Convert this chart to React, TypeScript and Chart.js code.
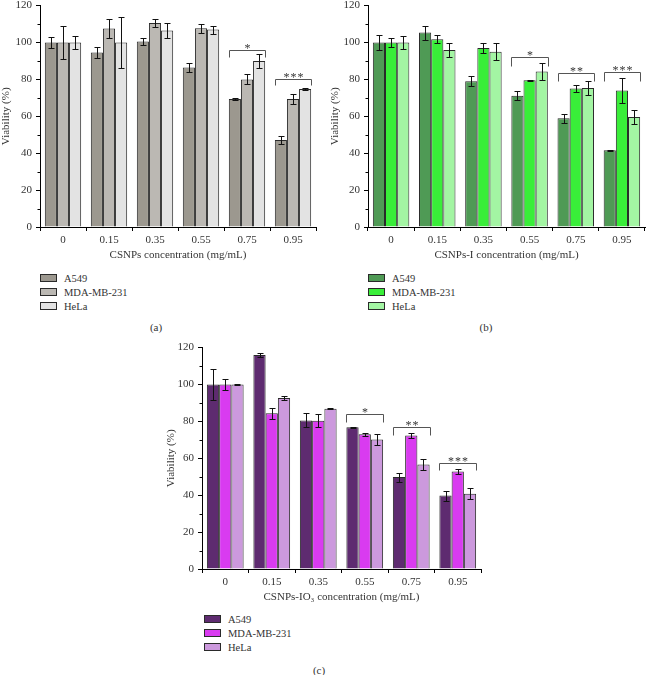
import React, { useEffect, useRef } from 'react';
import { Chart, registerables } from 'chart.js';

Chart.register(...registerables);
Chart.defaults.font.family = '"Liberation Serif", "Times New Roman", serif';
Chart.defaults.font.size = 11;
Chart.defaults.color = '#333';

// shared categories
const concentrations = ['0', '0.15', '0.35', '0.55', '0.75', '0.95'];
const cellLines = ['A549', 'MDA-MB-231', 'HeLa'];

// (a) CSNPs
const csnpsA549 = [100, 94.6, 100.5, 86.5, 69.4, 47.2];
const csnpsA549Err = [3, 3, 2, 2.5, 0.7, 2.3];
const csnpsMda = [100, 107.6, 110.6, 107.7, 80, 69.4];
const csnpsMdaErr = [9, 5.4, 2.2, 2.4, 2.7, 2.8];
const csnpsHela = [100, 100, 106.5, 107, 90, 74.8];
const csnpsHelaErr = [3.3, 14, 4, 2.2, 3.8, 0.5];
const csnpsBrackets = [
  { group: 4, top: 96, leg: 92, stars: 1 },
  { group: 5, top: 80, leg: 77, stars: 3 },
];

// (b) CSNPs-I
const iodA549 = [100, 105.4, 79, 71.2, 59, 41.6];
const iodA549Err = [3.8, 3.8, 2.6, 2.5, 2.4, 0.3];
const iodMda = [100, 101.8, 97, 79.6, 75.1, 74];
const iodMdaErr = [2.7, 2.2, 2.6, 0.3, 1.7, 6.8];
const iodHela = [100, 96, 95, 84.3, 75.3, 59.6];
const iodHelaErr = [3.4, 3.8, 4.7, 4.4, 4, 3.6];
const iodBrackets = [
  { group: 3, top: 92, leg: 87.4, stars: 1 },
  { group: 4, top: 83.2, leg: 79, stars: 2 },
  { group: 5, top: 83.8, leg: 79.3, stars: 3 },
];

// (c) CSNPs-IO3
const iodateA549 = [100, 116, 80.5, 76.8, 49.8, 39.8];
const iodateA549Err = [8.2, 0.9, 3.8, 0.3, 2.4, 2.7];
const iodateMda = [100, 84.4, 80.4, 73, 72.3, 52.9];
const iodateMdaErr = [3.1, 2.9, 3.5, 0.8, 1.3, 1.3];
const iodateHela = [100, 92.7, 86.9, 70.2, 56.7, 40.8];
const iodateHelaErr = [0.4, 1.3, 0.3, 3.1, 3.1, 2.9];
const iodateBrackets = [
  { group: 3, top: 84, leg: 79.5, stars: 1 },
  { group: 4, top: 77, leg: 72.8, stars: 2 },
  { group: 5, top: 57.4, leg: 53.4, stars: 3 },
];

interface Bracket {
  group: number;
  top: number;
  leg: number;
  stars: number;
}

interface PanelProps {
  values: number[][];
  errors: number[][];
  brackets: Bracket[];
  colors: string[];
  xTitle: string;
  left: number;
  top: number;
  width: number;
  height: number;
  yWidth: number;
  xHeight: number;
  padRight: number;
}

// error bars, minor y ticks and significance brackets
function makeOverlay(errors: number[][], brackets: Bracket[]) {
  return {
    id: 'overlay',
    afterDraw(chart: Chart) {
      const ctx = chart.ctx;
      const yScale = chart.scales.y;
      const area = chart.chartArea;
      ctx.save();
      ctx.strokeStyle = '#111';
      ctx.lineWidth = 1;

      errors.forEach((errs, di) => {
        const meta = chart.getDatasetMeta(di);
        meta.data.forEach((bar: any, i: number) => {
          const v = chart.data.datasets[di].data[i] as number;
          const x = Math.round(bar.x) + 0.5;
          const yt = Math.round(yScale.getPixelForValue(v + errs[i])) + 0.5;
          const yb = Math.round(yScale.getPixelForValue(v - errs[i])) + 0.5;
          ctx.beginPath();
          ctx.moveTo(x, yt);
          ctx.lineTo(x, yb);
          ctx.moveTo(x - 3, yt);
          ctx.lineTo(x + 3, yt);
          ctx.moveTo(x - 3, yb);
          ctx.lineTo(x + 3, yb);
          ctx.stroke();
        });
      });

      // minor ticks
      ctx.strokeStyle = '#000';
      for (let v = 10; v < 120; v += 20) {
        const py = Math.round(yScale.getPixelForValue(v)) + 0.5;
        ctx.beginPath();
        ctx.moveTo(area.left - 2.5, py);
        ctx.lineTo(area.left, py);
        ctx.stroke();
      }

      // brackets
      ctx.strokeStyle = '#555';
      ctx.fillStyle = '#333';
      ctx.font = '12px "Liberation Serif", serif';
      ctx.textAlign = 'center';
      ctx.textBaseline = 'alphabetic';
      const first = chart.getDatasetMeta(0);
      const last = chart.getDatasetMeta(errors.length - 1);
      brackets.forEach((b) => {
        const b0: any = first.data[b.group];
        const b2: any = last.data[b.group];
        const x0 = Math.round(b0.x - b0.width / 2) + 0.5;
        const x1 = Math.round(b2.x + b2.width / 2) + 0.5;
        const yTop = Math.round(yScale.getPixelForValue(b.top)) + 0.5;
        const yLeg = Math.round(yScale.getPixelForValue(b.leg)) + 0.5;
        ctx.beginPath();
        ctx.moveTo(x0, yLeg);
        ctx.lineTo(x0, yTop);
        ctx.lineTo(x1, yTop);
        ctx.lineTo(x1, yLeg);
        ctx.stroke();
        const cx = (x0 + x1) / 2;
        for (let s = 0; s < b.stars; s++) {
          const sx = cx + (s - (b.stars - 1) / 2) * 7;
          ctx.fillText('*', sx, yTop + 1);
        }
      });
      ctx.restore();
    },
  };
}

function Panel(p: PanelProps) {
  const canvasRef = useRef<HTMLCanvasElement>(null);

  useEffect(() => {
    if (!canvasRef.current) return;
    const chart = new Chart(canvasRef.current, {
      type: 'bar',
      data: {
        labels: concentrations,
        datasets: cellLines.map((name, i) => ({
          label: name,
          data: p.values[i],
          backgroundColor: p.colors[i],
          borderColor: '#2a2a2a',
          borderWidth: 1,
          categoryPercentage: 0.79,
          barPercentage: 1,
        })),
      },
      options: {
        animation: false,
        responsive: true,
        maintainAspectRatio: false,
        layout: { padding: { top: 10, right: p.padRight, left: 0, bottom: 0 } },
        plugins: { legend: { display: false }, tooltip: { enabled: false } },
        scales: {
          x: {
            grid: { display: true, drawOnChartArea: false, drawTicks: true, tickLength: 4, color: '#000', offset: true },
            border: { display: true, color: '#000', width: 1 },
            ticks: { padding: 3, maxRotation: 0 },
            title: { display: true, text: p.xTitle, padding: 0 },
            afterFit: (s: any) => { s.height = p.xHeight; },
          },
          y: {
            min: 0,
            max: 120,
            ticks: { stepSize: 20, padding: 4 },
            grid: { display: true, drawOnChartArea: false, drawTicks: true, tickLength: 4, color: '#000' },
            border: { display: true, color: '#000', width: 1 },
            title: { display: true, text: 'Viability (%)', padding: 0 },
            afterFit: (s: any) => { s.width = p.yWidth; },
          },
        },
      },
      plugins: [makeOverlay(p.errors, p.brackets)],
    });
    return () => chart.destroy();
  }, []);

  return (
    <div style={{ position: 'absolute', left: p.left, top: p.top, width: p.width, height: p.height }}>
      <canvas ref={canvasRef}></canvas>
    </div>
  );
}

function Legend({ left, top, gap, colors }: { left: number; top: number; gap: number; colors: string[] }) {
  return (
    <div style={{ position: 'absolute', left, top }}>
      {cellLines.map((name, i) => (
        <div key={name} style={{ position: 'absolute', top: i * gap, left: 0, height: 14, display: 'flex', alignItems: 'center', whiteSpace: 'nowrap' }}>
          <span style={{ display: 'inline-block', width: 15, height: 6, background: colors[i], border: '1px solid #2a2a2a' }}></span>
          <span style={{ marginLeft: 7, fontSize: 10.5, color: '#333' }}>{name}</span>
        </div>
      ))}
    </div>
  );
}

const greyColors = ['#9c988f', '#bbb8b3', '#e3e3e3'];
const greenColors = ['#4f9a55', '#39ee39', '#a3f5a3'];
const purpleColors = ['#5e2b70', '#d93bf0', '#cc99dd'];

export default function App() {
  const label: React.CSSProperties = { position: 'absolute', fontSize: 11, color: '#333', transform: 'translate(-50%, -50%)' };
  return (
    <div style={{ position: 'absolute', left: 0, top: 0, width: 646, height: 675, overflow: 'hidden', background: '#fff', fontFamily: '"Liberation Serif", "Times New Roman", serif' }}>
      <Panel
        values={[csnpsA549, csnpsMda, csnpsHela]}
        errors={[csnpsA549Err, csnpsMdaErr, csnpsHelaErr]}
        brackets={csnpsBrackets}
        colors={greyColors}
        xTitle="CSNPs concentration (mg/mL)"
        left={0} top={-5} width={323} height={267} yWidth={40} xHeight={35} padRight={7}
      />
      <Panel
        values={[iodA549, iodMda, iodHela]}
        errors={[iodA549Err, iodMdaErr, iodHelaErr]}
        brackets={iodBrackets}
        colors={greenColors}
        xTitle="CSNPs-I concentration (mg/mL)"
        left={329} top={-5} width={317} height={267} yWidth={39} xHeight={35} padRight={1}
      />
      <Panel
        values={[iodateA549, iodateMda, iodateHela]}
        errors={[iodateA549Err, iodateMdaErr, iodateHelaErr]}
        brackets={iodateBrackets}
        colors={purpleColors}
        xTitle="CSNPs-IO₃ concentration (mg/mL)"
        left={165} top={337} width={321} height={267} yWidth={37} xHeight={35} padRight={5}
      />
      <Legend left={40} top={271} gap={14.2} colors={greyColors} />
      <Legend left={368} top={271} gap={14.2} colors={greenColors} />
      <Legend left={204} top={612} gap={14} colors={purpleColors} />
      <div style={{ ...label, left: 156, top: 327 }}>(a)</div>
      <div style={{ ...label, left: 486, top: 327 }}>(b)</div>
      <div style={{ ...label, left: 319, top: 670 }}>(c)</div>
    </div>
  );
}
